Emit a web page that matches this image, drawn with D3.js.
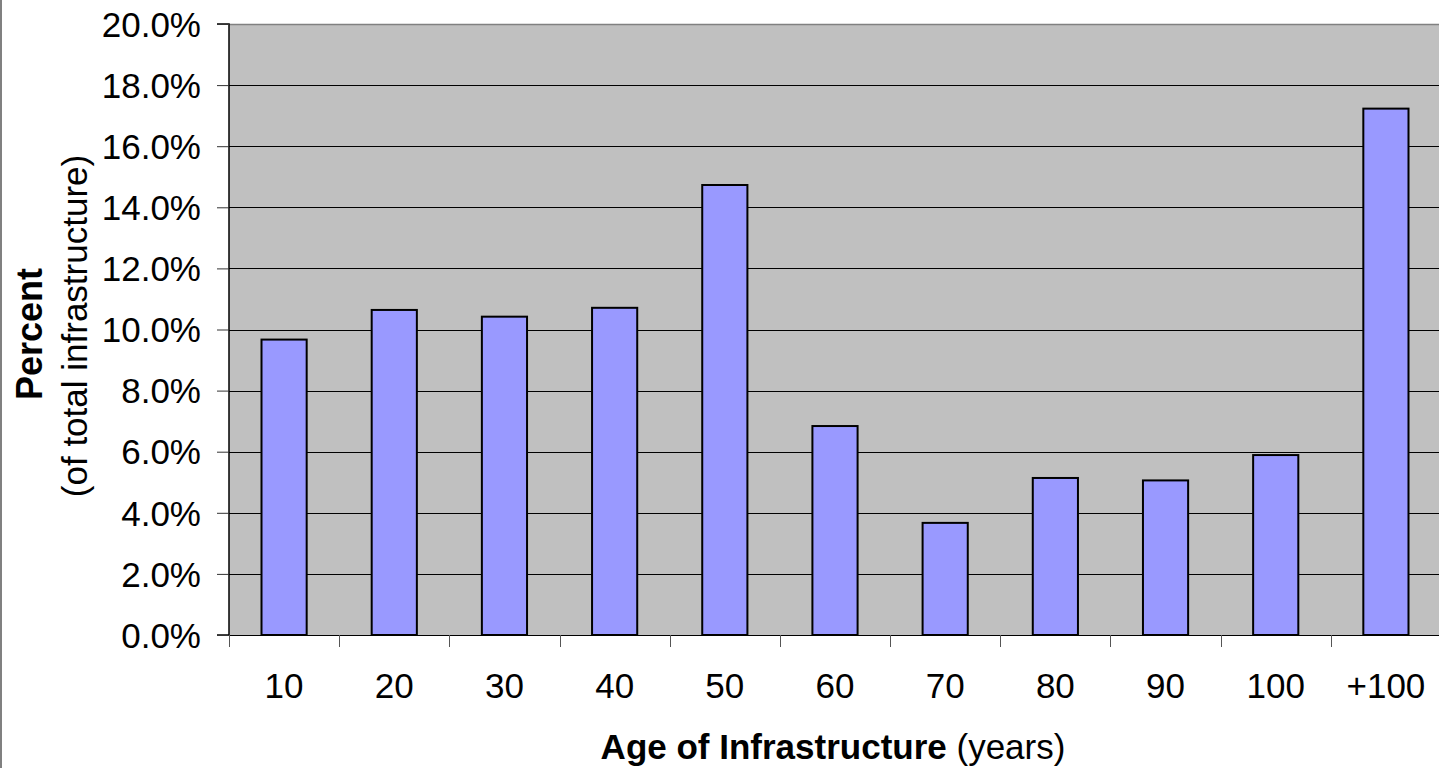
<!DOCTYPE html>
<html><head><meta charset="utf-8">
<script src="https://cdn.jsdelivr.net/npm/d3@7"></script>
<style>html,body{margin:0;padding:0;background:#fff;overflow:hidden}</style>
</head><body>
<svg id="c" width="1439" height="768"></svg>
<script>
const categories = ["10","20","30","40","50","60","70","80","90","100","+100"];
const values = [9.67, 10.64, 10.42, 10.71, 14.73, 6.84, 3.67, 5.14, 5.06, 5.89, 17.23];
const yTicks = [0,2,4,6,8,10,12,14,16,18,20];

const svg = d3.select("#c");
const L = 229, R = 1441, T = 24, B = 635;
const x = d3.scaleBand().domain(categories).range([L, R]).paddingInner(0).paddingOuter(0);
const y = d3.scaleLinear().domain([0, 20]).range([B, T]);
const font = "'Liberation Sans', Arial, sans-serif";
const fs = 35;

// left border
svg.append("line").attr("x1",1).attr("x2",1).attr("y1",0).attr("y2",768).attr("stroke","#808080").attr("stroke-width",2);

// plot background
svg.append("rect").attr("x",L).attr("y",T).attr("width",R-L).attr("height",B-T).attr("fill","#c0c0c0");

// gridlines
svg.append("g").selectAll("line").data(yTicks.filter(d=>d>0)).join("line")
  .attr("x1",L).attr("x2",R).attr("y1",d=>Math.round(y(d))+0.5).attr("y2",d=>Math.round(y(d))+0.5)
  .attr("stroke",d=>d===20?"#808080":"#000").attr("stroke-width",d=>d===20?1.5:1);

// bars
const bw = x.bandwidth()*0.41;
svg.append("g").selectAll("rect").data(values).join("rect")
  .attr("x",(d,i)=>x(categories[i])+x.bandwidth()/2-bw/2)
  .attr("y",d=>y(d))
  .attr("width",bw)
  .attr("height",d=>B-y(d))
  .attr("fill","#9999ff").attr("stroke","#000").attr("stroke-width",2);

// y axis
const yAxis = d3.axisLeft(y).tickValues(yTicks).tickSize(12).tickPadding(16).tickFormat(d=>d.toFixed(1)+"%");
const gy = svg.append("g").attr("transform",`translate(${L},0)`).call(yAxis);
gy.select(".domain").attr("stroke","#000").attr("stroke-width",1.5).attr("d",`M-12,${T}H0V${B}H-12`);
gy.selectAll(".tick line").attr("stroke","#333");
gy.selectAll("text").attr("font-family",font).attr("font-size",fs).attr("fill","#000").attr("dy","0.35em");

// x axis
const gx = svg.append("g").attr("transform",`translate(0,${B})`).call(d3.axisBottom(x).tickSize(0).tickPadding(38));
gx.select(".domain").attr("stroke","#000").attr("stroke-width",1);
gx.selectAll("text").attr("font-family",font).attr("font-size",fs).attr("fill","#000");
// boundary ticks
const bounds = categories.map(c=>x(c)).concat([R]);
svg.append("g").selectAll("line").data(bounds).join("line")
  .attr("x1",d=>Math.round(d)+0.5).attr("x2",d=>Math.round(d)+0.5).attr("y1",B).attr("y2",B+12)
  .attr("stroke","#555").attr("stroke-width",1);

// x title
const xt = svg.append("text").attr("x",833).attr("y",759).attr("text-anchor","middle")
  .attr("font-family",font).attr("font-size",fs).attr("fill","#000");
xt.append("tspan").attr("font-weight","bold").text("Age of Infrastructure");
xt.append("tspan").text(" (years)");

// y title
svg.append("text").attr("transform","translate(42,334) rotate(-90)").attr("text-anchor","middle")
  .attr("font-family",font).attr("font-size",36).attr("font-weight","bold").text("Percent");
svg.append("text").attr("transform","translate(87,326) rotate(-90)").attr("text-anchor","middle")
  .attr("font-family",font).attr("font-size",35).text("(of total infrastructure)");
</script>
</body></html>
